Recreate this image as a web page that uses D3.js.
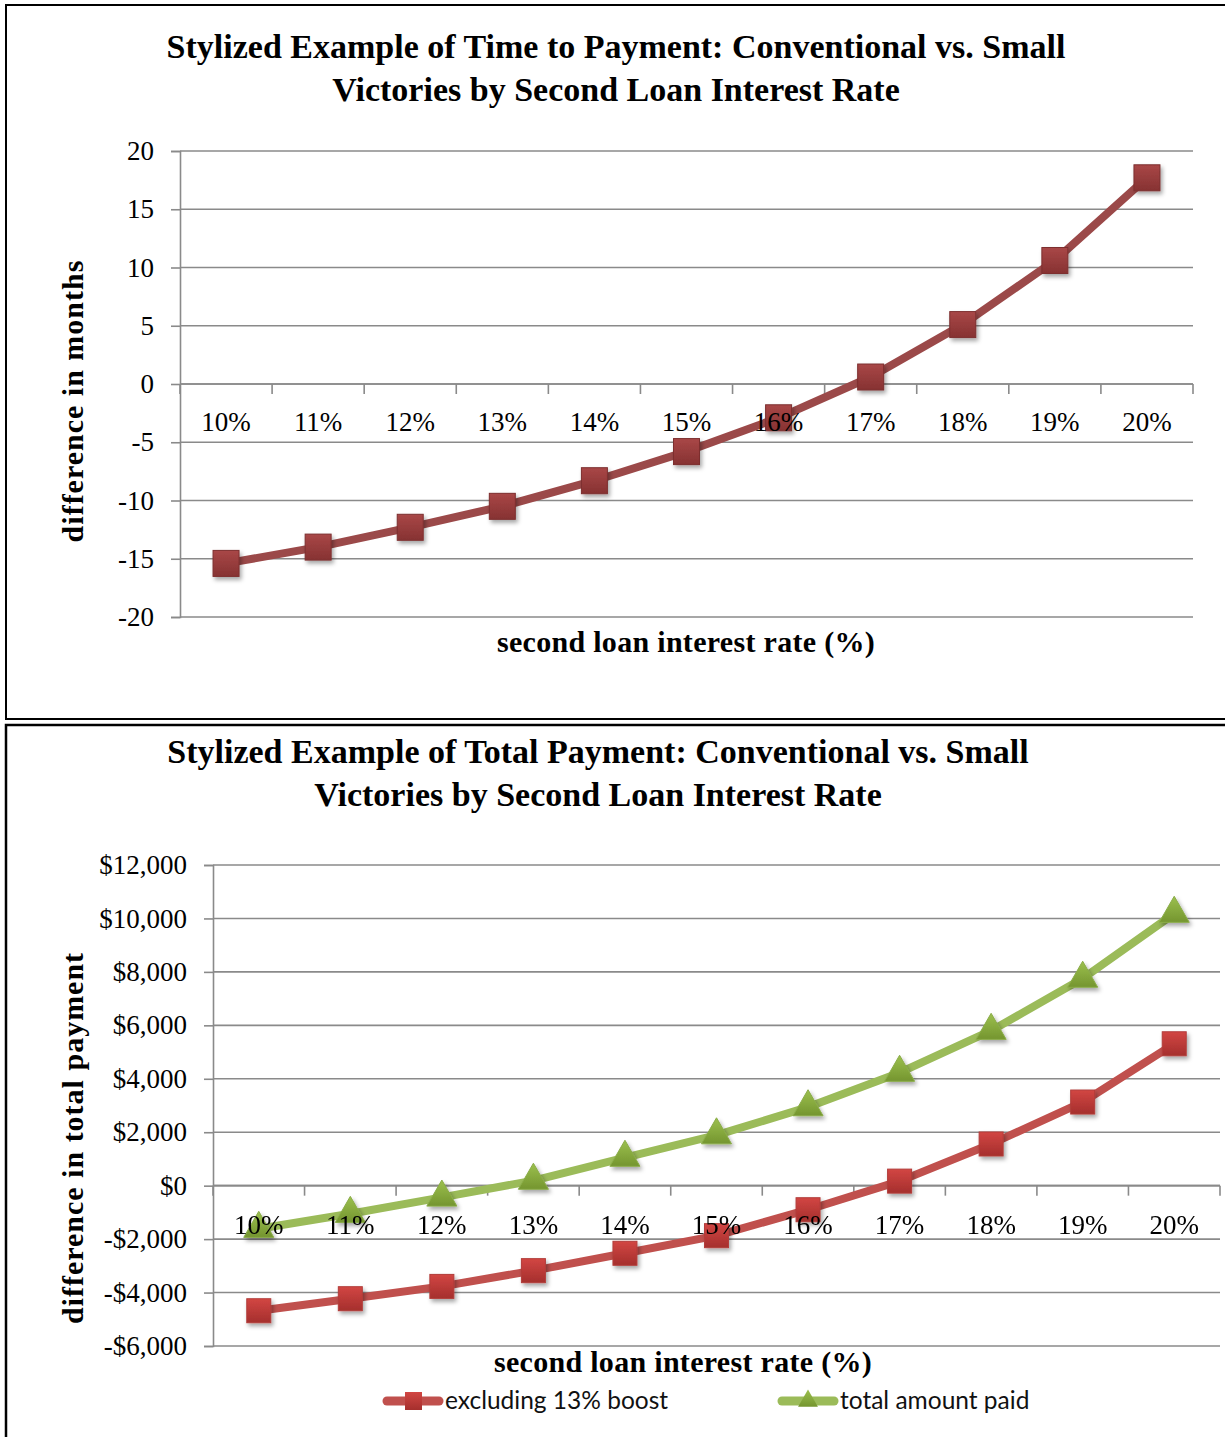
<!DOCTYPE html>
<html>
<head>
<meta charset="utf-8">
<script src="https://cdn.jsdelivr.net/npm/d3@7"></script>
<style>
  html, body { margin: 0; padding: 0; background: #fff; }
  svg { display: block; }
  .serif { font-family: "Liberation Serif", "DejaVu Serif", serif; }
</style>
</head>
<body>
<svg id="chart" width="1225" height="1437"></svg>
<script>
// Second loan interest rate categories
const rates = ["10%", "11%", "12%", "13%", "14%", "15%", "16%", "17%", "18%", "19%", "20%"];

// Chart 1: difference in months to payoff (conventional vs. small victories)
const monthsDiff = [-15.4, -14.0, -12.3, -10.5, -8.3, -5.8, -2.9, 0.6, 5.1, 10.6, 17.7];
const monthsTicks = [20, 15, 10, 5, 0, -5, -10, -15, -20];

// Chart 2: difference in total payment
const excludingBoost = [-4680, -4230, -3770, -3180, -2530, -1870, -900, 170, 1560, 3130, 5310];
const totalAmountPaid = [-1610, -1050, -440, 190, 1050, 1890, 2940, 4230, 5800, 7750, 10180];
const paymentTicks = [12000, 10000, 8000, 6000, 4000, 2000, 0, -2000, -4000, -6000];
const seriesNames = ["excluding 13% boost", "total amount paid"];

const svg = d3.select("#chart");
const defs = svg.append("defs");

// Soft drop shadow under the markers
const shadow = defs.append("filter").attr("id", "mshadow")
  .attr("x", "-50%").attr("y", "-50%").attr("width", "200%").attr("height", "200%");
shadow.append("feDropShadow").attr("dx", 2).attr("dy", 3).attr("stdDeviation", 2)
  .attr("flood-color", "#000").attr("flood-opacity", 0.35);

function vgrad(id, top, bottom) {
  const g = defs.append("linearGradient").attr("id", id)
    .attr("x1", 0).attr("y1", 0).attr("x2", 0).attr("y2", 1);
  g.append("stop").attr("offset", "0%").attr("stop-color", top);
  g.append("stop").attr("offset", "100%").attr("stop-color", bottom);
}
vgrad("gMaroon", "#a94747", "#863232");
vgrad("gRed", "#d24643", "#a52f2d");
vgrad("gGreen", "#9cc04e", "#74952f");

const GRID = "#8a8a8a";

// Panel frames
svg.append("rect").attr("x", 6).attr("y", 5).attr("width", 1240).attr("height", 714)
  .attr("fill", "none").attr("stroke", "#000").attr("stroke-width", 2);
svg.append("rect").attr("x", 6).attr("y", 725).attr("width", 1240).attr("height", 730)
  .attr("fill", "none").attr("stroke", "#000").attr("stroke-width", 2.5);

function title(lines, cx, ys) {
  lines.forEach((t, i) => {
    svg.append("text").attr("class", "serif")
      .attr("x", cx).attr("y", ys[i]).attr("text-anchor", "middle")
      .attr("font-size", 34).attr("font-weight", "bold").attr("fill", "#000")
      .text(t);
  });
}

// Draw one line chart panel
function panel(opt) {
  const x = d3.scaleBand().domain(rates).range(opt.xRange);
  const y = d3.scaleLinear().domain(opt.yDomain).range(opt.yRange);
  const g = svg.append("g");

  // horizontal gridlines
  g.append("g").selectAll("line").data(opt.ticks).join("line")
    .attr("x1", opt.xRange[0]).attr("x2", opt.xRange[1])
    .attr("y1", d => y(d)).attr("y2", d => y(d))
    .attr("stroke", GRID).attr("stroke-width", 1.6);

  // value axis
  const yAxis = d3.axisLeft(y).tickValues(opt.ticks).tickSize(9).tickPadding(17)
    .tickFormat(opt.fmt);
  const ya = g.append("g").attr("transform", `translate(${opt.xRange[0]},0)`).call(yAxis);
  ya.select(".domain").attr("stroke", GRID).attr("stroke-width", 1.6);
  ya.selectAll(".tick line").attr("stroke", GRID).attr("stroke-width", 1.6);
  ya.selectAll("text").attr("class", "serif").attr("font-size", 27).attr("fill", "#000")
    .attr("font-family", "Liberation Serif, DejaVu Serif, serif");

  // category axis at zero: boundary ticks
  const bounds = rates.map(r => x(r)).concat([opt.xRange[1]]);
  const y0 = y(0);
  g.append("line").attr("x1", opt.xRange[0]).attr("x2", opt.xRange[1])
    .attr("y1", y0).attr("y2", y0).attr("stroke", GRID).attr("stroke-width", 1.6);
  g.append("g").selectAll("line").data(bounds).join("line")
    .attr("x1", d => d).attr("x2", d => d).attr("y1", y0).attr("y2", y0 + 10)
    .attr("stroke", GRID).attr("stroke-width", 1.6);

  // series
  opt.series.forEach(s => {
    const pts = s.values.map((v, i) => [x(rates[i]) + x.bandwidth() / 2, y(v)]);
    g.append("path").attr("d", d3.line()(pts)).attr("fill", "none")
      .attr("stroke", s.color).attr("stroke-width", 8).attr("stroke-linejoin", "round");
    const m = g.append("g").attr("filter", "url(#mshadow)");
    if (s.marker === "square") {
      m.selectAll("rect").data(pts).join("rect")
        .attr("x", d => d[0] - s.size / 2).attr("y", d => d[1] - s.size / 2)
        .attr("width", s.size).attr("height", s.size)
        .attr("fill", s.fill).attr("stroke", s.edge).attr("stroke-width", 1);
    } else {
      const sym = d3.symbol().type(d3.symbolTriangle).size(s.size * s.size * 0.5);
      m.selectAll("path").data(pts).join("path")
        .attr("d", sym).attr("transform", d => `translate(${d[0]},${d[1]})`)
        .attr("fill", s.fill).attr("stroke", s.edge).attr("stroke-width", 1);
    }
  });

  // category labels sit below the zero line, over the series
  g.append("g").selectAll("text").data(rates).join("text").attr("class", "serif")
    .attr("x", d => x(d) + x.bandwidth() / 2).attr("y", y0 + opt.labelDy)
    .attr("text-anchor", "middle").attr("font-size", 27).attr("fill", "#000")
    .text(d => d);

  // axis titles
  svg.append("text").attr("class", "serif")
    .attr("transform", `translate(${opt.yTitle[0]},${opt.yTitle[1]}) rotate(-90)`)
    .attr("text-anchor", "middle").attr("font-size", 30).attr("font-weight", "bold")
    .attr("letter-spacing", 1)
    .text(opt.yTitleText);
  svg.append("text").attr("class", "serif")
    .attr("x", opt.xTitle[0]).attr("y", opt.xTitle[1])
    .attr("text-anchor", "middle").attr("font-size", 30).attr("font-weight", "bold")
    .attr("letter-spacing", 0.3)
    .text("second loan interest rate (%)");
}

// ---- Chart 1 ----
title(["Stylized Example of Time to Payment: Conventional vs. Small",
       "Victories by Second Loan Interest Rate"], 616, [58, 101]);
panel({
  xRange: [180, 1193], yDomain: [-20, 20], yRange: [617, 151],
  ticks: monthsTicks, fmt: d => d3.format("d")(d).replace("−", "-"),
  labelDy: 47,
  series: [{ values: monthsDiff, color: "#9b4949", marker: "square", size: 26,
             fill: "url(#gMaroon)", edge: "#7d2f2f" }],
  yTitle: [83, 401], yTitleText: "difference in months",
  xTitle: [686, 652]
});

// ---- Chart 2 ----
title(["Stylized Example of Total Payment: Conventional vs. Small",
       "Victories by Second Loan Interest Rate"], 598, [763, 806]);
const money = d => (d < 0 ? "-$" : "$") + d3.format(",")(Math.abs(d));
panel({
  xRange: [213, 1220], yDomain: [-6000, 12000], yRange: [1346, 865],
  ticks: paymentTicks, fmt: money,
  labelDy: 48,
  series: [
    { values: excludingBoost, color: "#c0504d", marker: "square", size: 24,
      fill: "url(#gRed)", edge: "#b23d3a" },
    { values: totalAmountPaid, color: "#9bbb59", marker: "triangle", size: 28,
      fill: "url(#gGreen)", edge: "#8aac48" }
  ],
  yTitle: [83, 1138], yTitleText: "difference in total payment",
  xTitle: [683, 1372]
});

// ---- Legend ----
const legend = svg.append("g");
const legendItems = [
  { name: seriesNames[0], color: "#c0504d", fill: "url(#gRed)", marker: "square", x: 383 },
  { name: seriesNames[1], color: "#9bbb59", fill: "url(#gGreen)", marker: "triangle", x: 778 }
];
legendItems.forEach(it => {
  const ly = 1401;
  legend.append("line").attr("x1", it.x + 4).attr("x2", it.x + 56)
    .attr("y1", ly).attr("y2", ly).attr("stroke", it.color)
    .attr("stroke-width", 9).attr("stroke-linecap", "round");
  if (it.marker === "square") {
    legend.append("rect").attr("x", it.x + 22).attr("y", ly - 9).attr("width", 17).attr("height", 18)
      .attr("fill", it.fill);
  } else {
    legend.append("path").attr("d", d3.symbol().type(d3.symbolTriangle).size(170)())
      .attr("transform", `translate(${it.x + 30},${ly})`).attr("fill", it.fill);
  }
  legend.append("text").attr("x", it.x + 62).attr("y", ly + 8)
    .attr("font-family", "Lato, 'Open Sans', sans-serif").attr("font-size", 24.5)
    .attr("fill", "#111").text(it.name);
});
</script>
</body>
</html>
